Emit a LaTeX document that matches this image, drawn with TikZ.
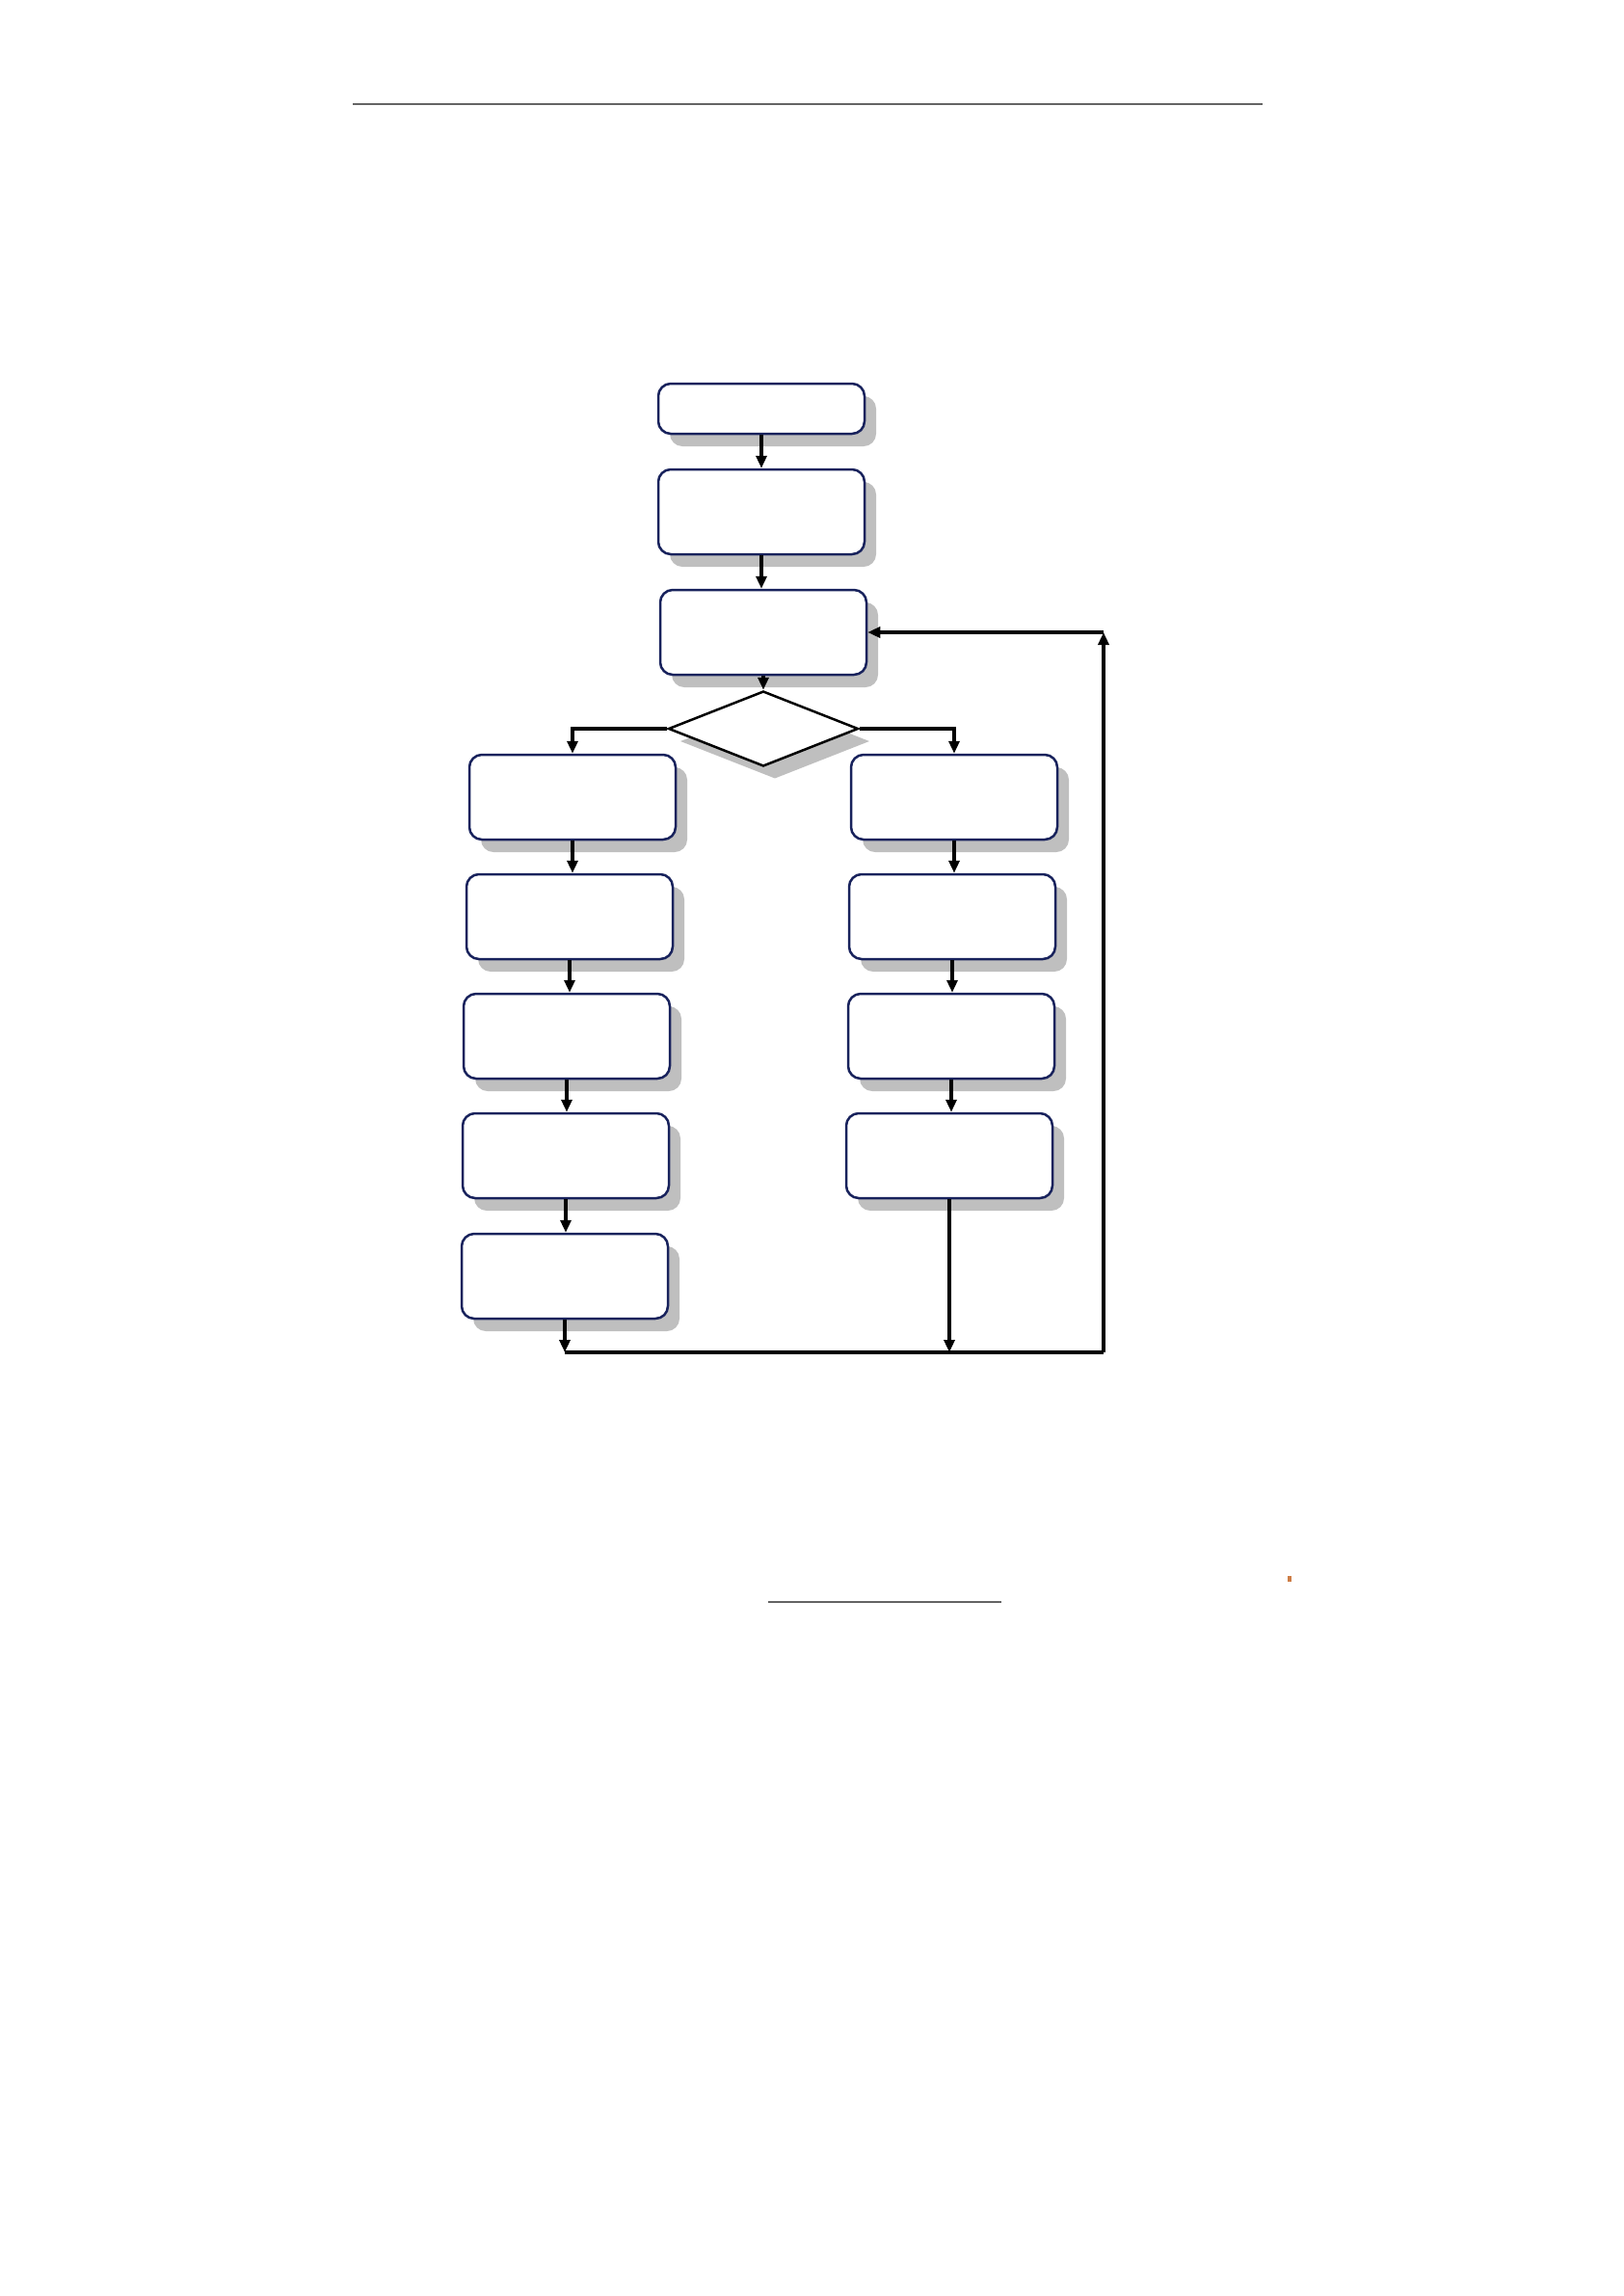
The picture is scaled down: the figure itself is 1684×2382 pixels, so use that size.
\documentclass[tikz,border=0pt]{standalone}
\usepackage{tikz}
\usetikzlibrary{arrows.meta, calc, positioning, shapes.geometric, shadows}
\definecolor{boxline}{RGB}{24,34,92}
\definecolor{rulegray}{RGB}{100,100,100}
\definecolor{markorange}{RGB}{205,125,70}

\begin{document}
\begin{tikzpicture}[
    x=0.1mm, y=-0.1mm,
    box/.style={draw=boxline, line width=0.25mm, rounded corners=1.3mm, fill=white,
        minimum width=21.4mm, minimum height=8.8mm, inner sep=0pt,
        drop shadow={shadow xshift=1.2mm, shadow yshift=-1.3mm, fill=gray!50, opacity=1}},
    decision/.style={diamond, draw=black, line width=0.25mm, fill=white,
        minimum width=19.7mm, minimum height=7.8mm, inner sep=0pt,
        drop shadow={shadow xshift=1.2mm, shadow yshift=-1.3mm, fill=gray!50, opacity=1}},
    flow/.style={-{Triangle[length=1.3mm, width=1.1mm]}, line width=0.35mm},
    rule/.style={draw=rulegray, line width=0.2mm}
]
\useasboundingbox (0,0) rectangle (1684,2382);

% Linien der Seite
\draw[rule] (366,108) -- (1310,108);
\draw[rule] (797,1662) -- (1039,1662);
\fill[markorange] (1336,1635) rectangle (1340,1641);

% Obere Kaesten und Verzweigung
\node[box, minimum height=5.2mm] (B1) at (790,424) {};
\node[box] (B2) at (790,531) {};
\node[box] (B3) at (792,656) {};
\node[decision] (D) at (792,756) {};

% Linker Zweig
\node[box] (L1) at (594,827) {};
\node[box] (L2) at (591,951) {};
\node[box] (L3) at (588,1075) {};
\node[box] (L4) at (587,1199) {};
\node[box] (L5) at (586,1324) {};

% Rechter Zweig
\node[box] (R1) at (990,827) {};
\node[box] (R2) at (988,951) {};
\node[box] (R3) at (987,1075) {};
\node[box] (R4) at (985,1199) {};

% Rueckfuehrung
\coordinate (loop_br) at (1145,1403);
\coordinate (loop_tr) at (loop_br |- B3.east);

% Pfeile
\draw[flow] (B1.south) -- (B2.north);
\draw[flow] (B2.south) -- (B2.south |- B3.north);
\draw[flow] (B3.south) -- (D.north);
\draw[flow] (D.west) -| (L1.north);
\draw[flow] (D.east) -| (R1.north);

\draw[flow] (L1.south) -- (L1.south |- L2.north);
\draw[flow] (L2.south) -- (L2.south |- L3.north);
\draw[flow] (L3.south) -- (L3.south |- L4.north);
\draw[flow] (L4.south) -- (L4.south |- L5.north);
\draw[flow] (L5.south) -- (L5.south |- loop_br);

\draw[flow] (R1.south) -- (R1.south |- R2.north);
\draw[flow] (R2.south) -- (R2.south |- R3.north);
\draw[flow] (R3.south) -- (R3.south |- R4.north);
\draw[flow] (R4.south) -- (R4.south |- loop_br);

\draw[line width=0.35mm] (L5.south |- loop_br) -- (loop_br);
\draw[flow] (loop_br) -- (loop_tr);
\draw[flow] (loop_tr) -- (B3.east);

\end{tikzpicture}
\end{document}
